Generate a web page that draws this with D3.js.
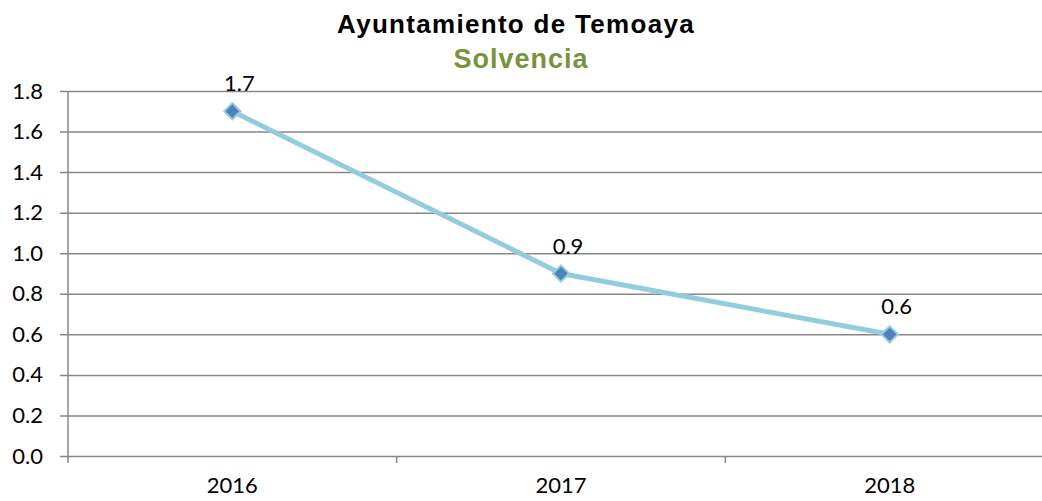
<!DOCTYPE html>
<html>
<head>
<meta charset="utf-8">
<script src="https://cdn.jsdelivr.net/npm/d3@7"></script>
<style>
  body { margin: 0; background: #fff; }
  svg { display: block; }
</style>
</head>
<body>
<div class="chart"></div>
<script>
const years = ["2016", "2017", "2018"];
const solvencia = [1.7, 0.9, 0.6];
const yTicks = [0, 0.2, 0.4, 0.6, 0.8, 1.0, 1.2, 1.4, 1.6, 1.8];
const title = "Ayuntamiento de Temoaya";
const subtitle = "Solvencia";

const width = 1042;
const height = 501;
const margin = { top: 91, right: -12, bottom: 45, left: 68 };

const svg = d3.select(".chart")
    .append("svg")
    .attr("width", width)
    .attr("height", height);

const x = d3.scaleBand()
    .domain(years)
    .range([margin.left, width - margin.right]);

const y = d3.scaleLinear()
    .domain([0, 1.8])
    .range([height - margin.bottom, margin.top]);

const gridColor = "#878787";
const labelFont = "Lato, 'Open Sans', sans-serif";
const titleFont = "Arial, 'Liberation Sans', Helvetica, sans-serif";

// horizontal gridlines with ticks to the left
const yAxis = svg.append("g")
    .attr("transform", `translate(${margin.left},0)`)
    .call(d3.axisLeft(y)
        .tickValues(yTicks)
        .tickFormat(d3.format(".1f"))
        .tickSize(-(width - margin.right - margin.left))
        .tickPadding(25));
yAxis.select(".domain").remove();
yAxis.selectAll(".tick line")
    .attr("x1", -8)
    .attr("stroke", gridColor)
    .attr("stroke-width", 1.5);
yAxis.selectAll(".tick text")
    .attr("fill", "#000")
    .style("font-family", labelFont)
    .style("font-size", "22px");

// vertical axis line
svg.append("line")
    .attr("x1", margin.left).attr("x2", margin.left)
    .attr("y1", y(1.8)).attr("y2", y(0) + 7)
    .attr("stroke", gridColor)
    .attr("stroke-width", 1.5);

// category axis
const xAxis = svg.append("g")
    .attr("transform", `translate(0,${y(0)})`)
    .call(d3.axisBottom(x).tickSize(0).tickPadding(21));
xAxis.select(".domain").remove();
xAxis.selectAll(".tick text")
    .attr("fill", "#000")
    .style("font-family", labelFont)
    .style("font-size", "22px");

// tick marks between categories
svg.append("g")
    .selectAll("line")
    .data(years.slice(1))
    .enter()
    .append("line")
    .attr("x1", d => x(d)).attr("x2", d => x(d))
    .attr("y1", y(0)).attr("y2", y(0) + 7)
    .attr("stroke", gridColor)
    .attr("stroke-width", 1.5);

const cx = d => x(d) + x.bandwidth() / 2;
const points = years.map((d, i) => ({ year: d, value: solvencia[i] }));

svg.append("path")
    .datum(points)
    .attr("fill", "none")
    .attr("stroke", "#93CDDD")
    .attr("stroke-width", 5)
    .attr("d", d3.line().x(d => cx(d.year)).y(d => y(d.value)));

svg.append("g")
    .selectAll("path")
    .data(points)
    .enter()
    .append("path")
    .attr("transform", d => `translate(${cx(d.year)},${y(d.value)})`)
    .attr("d", d3.symbol().type(d3.symbolDiamond2).size(170))
    .attr("fill", "#4F81BD")
    .attr("stroke", "#93CDDD")
    .attr("stroke-width", 2);

svg.append("g")
    .selectAll("text")
    .data(points)
    .enter()
    .append("text")
    .attr("x", d => cx(d.year) + 7)
    .attr("y", d => y(d.value) - 20)
    .attr("text-anchor", "middle")
    .style("font-family", labelFont)
    .style("font-size", "22px")
    .text(d => d3.format(".1f")(d.value));

// titles
svg.append("text")
    .attr("x", 516)
    .attr("y", 33)
    .attr("text-anchor", "middle")
    .style("font-family", titleFont)
    .style("font-weight", "bold")
    .style("font-size", "26px")
    .style("letter-spacing", "1.3px")
    .text(title);

svg.append("text")
    .attr("x", 521)
    .attr("y", 68)
    .attr("text-anchor", "middle")
    .attr("fill", "#77933C")
    .style("font-family", titleFont)
    .style("font-weight", "bold")
    .style("font-size", "27px")
    .style("letter-spacing", "1px")
    .text(subtitle);
</script>
</body>
</html>
